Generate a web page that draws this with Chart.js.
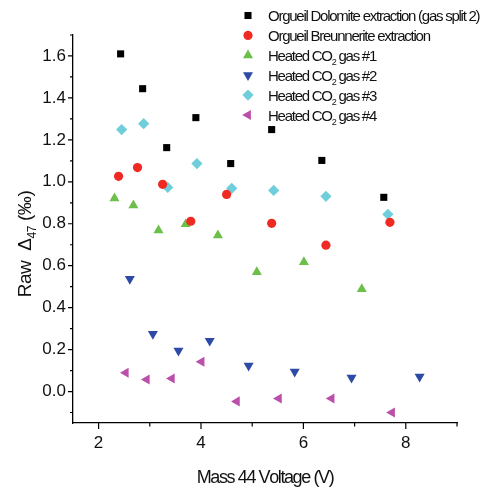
<!DOCTYPE html>
<html lang="en">
<head>
<meta charset="UTF-8">
<title>Raw Δ47 vs Mass 44 Voltage</title>
<script src="https://cdn.jsdelivr.net/npm/chart.js"></script>
<style>
  html, body { margin: 0; padding: 0; background: #fff; }
  #chart-container { width: 487px; height: 491px; }
</style>
</head>
<body>
<div id="chart-container"><canvas id="deltaChart"></canvas></div>
<script>
// series names (₂ is drawn as a subscript)
const seriesNames = [
  'Orgueil Dolomite extraction (gas split 2)',
  'Orgueil Breunnerite extraction',
  'Heated CO₂ gas #1',
  'Heated CO₂ gas #2',
  'Heated CO₂ gas #3',
  'Heated CO₂ gas #4'
];

// values
const dolomiteX    = [2.43, 2.86, 3.33, 3.90, 4.58, 5.38, 6.36, 7.57];
const dolomiteY    = [1.610, 1.444, 1.163, 1.306, 1.087, 1.249, 1.102, 0.926];
const breunneriteX = [2.39, 2.76, 3.25, 3.80, 4.50, 5.38, 6.44, 7.69];
const breunneriteY = [1.026, 1.068, 0.988, 0.812, 0.940, 0.802, 0.698, 0.807];
const gas1X = [2.31, 2.68, 3.17, 3.70, 4.33, 5.09, 6.01, 7.14];
const gas1Y = [0.921, 0.888, 0.769, 0.798, 0.745, 0.570, 0.617, 0.489];
const gas2X = [2.61, 3.06, 3.56, 4.17, 4.93, 5.83, 6.94, 8.27];
const gas2Y = [0.537, 0.275, 0.195, 0.242, 0.123, 0.095, 0.066, 0.071];
const gas3X = [2.45, 2.88, 3.35, 3.92, 4.60, 5.42, 6.44, 7.65];
const gas3Y = [1.249, 1.277, 0.973, 1.087, 0.969, 0.959, 0.931, 0.845];
const gas4X = [2.53, 2.94, 3.43, 4.01, 4.70, 5.52, 6.55, 7.73];
const gas4Y = [0.090, 0.057, 0.062, 0.142, -0.047, -0.033, -0.033, -0.100];

// ticks
const xMajorTicks = [2, 4, 6, 8];
const xMinorTicks = [3, 5, 7, 9];
const yMajorTicks = [0.0, 0.2, 0.4, 0.6, 0.8, 1.0, 1.2, 1.4, 1.6];
const yMinorTicks = [-0.1, 0.1, 0.3, 0.5, 0.7, 0.9, 1.1, 1.3, 1.5, 1.7];

const xTitle = 'Mass 44 Voltage (V)';
const yTitle = 'Raw  Δ₄₇ (‰)';

const FONT = '"Liberation Sans", Arial, sans-serif';

function pts(xs, ys) {
  return xs.map((x, i) => ({ x: x, y: ys[i] }));
}

// draws text, turning unicode subscript digits into small lowered digits
function drawRich(ctx, text, x, y, size, spacing) {
  ctx.letterSpacing = spacing + 'px';
  let cx = x;
  for (const ch of text) {
    const code = ch.codePointAt(0);
    if (code >= 0x2080 && code <= 0x2089) {
      const d = String(code - 0x2080);
      ctx.font = Math.round(size * 0.62) + 'px ' + FONT;
      ctx.fillText(d, cx, y + size * 0.28);
      cx += ctx.measureText(d).width;
    } else {
      ctx.font = size + 'px ' + FONT;
      ctx.fillText(ch, cx, y);
      cx += ctx.measureText(ch).width;
    }
  }
  return cx - x;
}

function richWidth(ctx, text, size, spacing) {
  ctx.save();
  ctx.globalAlpha = 0;
  const w = drawRich(ctx, text, 0, 0, size, spacing);
  ctx.restore();
  return w;
}

const decorPlugin = {
  id: 'decor',
  afterDraw(chart) {
    const ctx = chart.ctx;
    const xs = chart.scales.x, ys = chart.scales.y;
    const area = chart.chartArea;
    ctx.save();
    ctx.strokeStyle = '#000';
    ctx.lineWidth = 1.2;
    ctx.beginPath();
    yMajorTicks.forEach(v => { const p = ys.getPixelForValue(v); ctx.moveTo(area.left - 5, p); ctx.lineTo(area.left, p); });
    yMinorTicks.forEach(v => { const p = ys.getPixelForValue(v); ctx.moveTo(area.left - 3, p); ctx.lineTo(area.left, p); });
    xMajorTicks.forEach(v => { const p = xs.getPixelForValue(v); ctx.moveTo(p, area.bottom); ctx.lineTo(p, area.bottom + 6); });
    xMinorTicks.forEach(v => { const p = xs.getPixelForValue(v); ctx.moveTo(p, area.bottom); ctx.lineTo(p, area.bottom + 3.5); });
    ctx.stroke();

    ctx.fillStyle = '#111';
    ctx.textBaseline = 'alphabetic';
    ctx.textAlign = 'left';

    // x title
    const xw = richWidth(ctx, xTitle, 18, -1.4);
    drawRich(ctx, xTitle, (area.left + area.right) / 2 - xw / 2, 483, 18, -1.4);

    // y title
    ctx.save();
    ctx.translate(31, 244);
    ctx.rotate(-Math.PI / 2);
    const yw = richWidth(ctx, yTitle, 19, -0.4);
    drawRich(ctx, yTitle, -yw / 2, 0, 19, -0.4);
    ctx.restore();

    // legend
    chart.data.datasets.forEach((ds, i) => {
      const my = 15.5 + 19.9 * i;
      ctx.fillStyle = ds.backgroundColor;
      Chart.helpers.drawPoint(ctx, {
        pointStyle: ds.pointStyle, radius: ds.pointRadius, rotation: ds.rotation || 0, borderWidth: 0
      }, 248, my);
      ctx.fillStyle = '#111';
      drawRich(ctx, ds.label, 268, my + 5.5, 15, -1.25);
    });
    ctx.restore();
  }
};

const datasets = [
  { label: seriesNames[0], data: pts(dolomiteX, dolomiteY), pointStyle: 'rect', pointRadius: 5, backgroundColor: '#000000' },
  { label: seriesNames[1], data: pts(breunneriteX, breunneriteY), pointStyle: 'circle', pointRadius: 4.6, backgroundColor: '#ef2a22' },
  { label: seriesNames[2], data: pts(gas1X, gas1Y), pointStyle: 'triangle', pointRadius: 5.8, backgroundColor: '#6cbf48' },
  { label: seriesNames[3], data: pts(gas2X, gas2Y), pointStyle: 'triangle', rotation: 180, pointRotation: 180, pointRadius: 5.8, backgroundColor: '#2c4aa6' },
  { label: seriesNames[4], data: pts(gas3X, gas3Y), pointStyle: 'rectRot', pointRadius: 5.6, backgroundColor: '#6ecedb' },
  { label: seriesNames[5], data: pts(gas4X, gas4Y), pointStyle: 'triangle', rotation: 270, pointRotation: 270, pointRadius: 5.8, backgroundColor: '#bb4fa9' }
].map(d => Object.assign({ borderWidth: 0, pointBorderWidth: 0, pointHoverRadius: d.pointRadius }, d));

new Chart(document.getElementById('deltaChart'), {
  type: 'scatter',
  data: { datasets: datasets },
  plugins: [decorPlugin],
  options: {
    responsive: true,
    maintainAspectRatio: false,
    animation: false,
    layout: { padding: { left: 0, top: 35, right: 30, bottom: 0 } },
    plugins: { legend: { display: false }, tooltip: { enabled: false } },
    scales: {
      x: {
        type: 'linear', min: 1.5, max: 9,
        afterFit(scale) { scale.height = 68; },
        afterBuildTicks(scale) { scale.ticks = xMajorTicks.map(v => ({ value: v })); },
        grid: { display: false, drawTicks: false, tickLength: 0 },
        border: { display: true, color: '#000', width: 1.3 },
        ticks: { color: '#111', font: { family: FONT, size: 17 }, padding: 10, maxRotation: 0,
          callback: v => String(v) }
      },
      y: {
        type: 'linear', min: -0.15, max: 1.7,
        afterFit(scale) { scale.width = 73; },
        afterBuildTicks(scale) { scale.ticks = yMajorTicks.map(v => ({ value: v })); },
        grid: { display: false, drawTicks: false, tickLength: 0 },
        border: { display: true, color: '#000', width: 1.3 },
        ticks: { color: '#111', font: { family: FONT, size: 17 }, padding: 7,
          callback: v => v.toFixed(1) }
      }
    }
  }
});
</script>
</body>
</html>
